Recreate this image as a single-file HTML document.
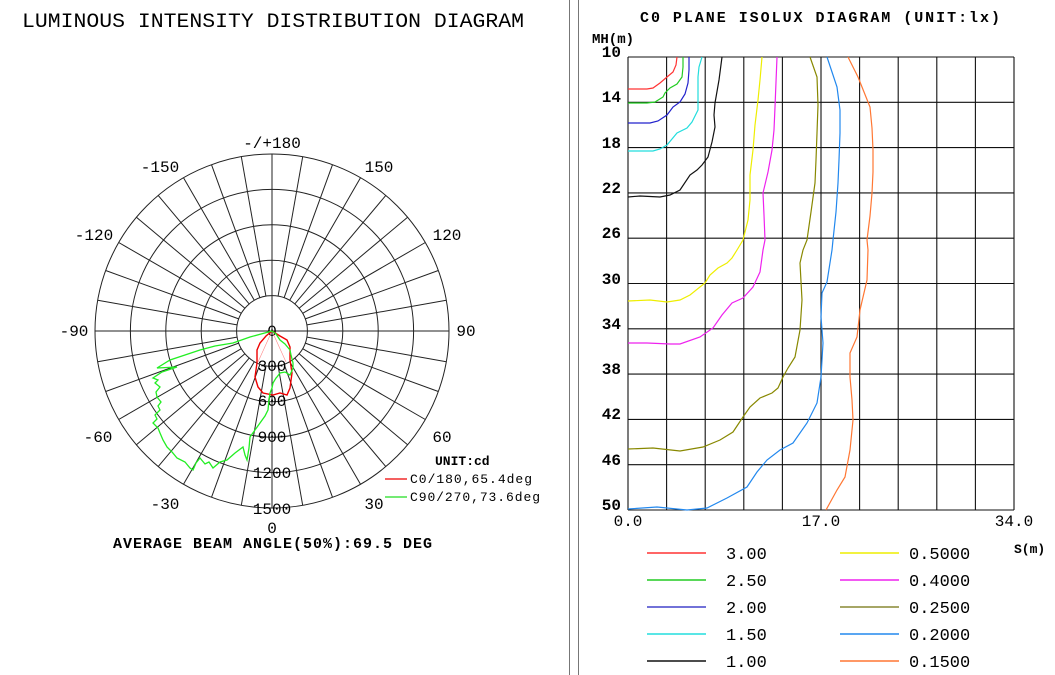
<!DOCTYPE html>
<html><head><meta charset="utf-8"><style>
html,body{margin:0;padding:0;background:#fff}
svg{display:block}
text{font-family:"Liberation Mono","DejaVu Sans Mono",monospace;fill:#000}
.b{font-weight:bold}
</style></head><body>
<svg id="s" width="1055" height="675" viewBox="0 0 1055 675" xmlns="http://www.w3.org/2000/svg">
<rect width="1055" height="675" fill="#fff"/>
<line x1="569.5" y1="0" x2="569.5" y2="675" stroke="#777" stroke-width="1"/>
<line x1="578.5" y1="0" x2="578.5" y2="675" stroke="#777" stroke-width="1"/>
<text x="22" y="27" font-size="20" textLength="502" lengthAdjust="spacingAndGlyphs">LUMINOUS INTENSITY DISTRIBUTION DIAGRAM</text>
<g id="polar" stroke="#222" stroke-width="1" fill="none"></g>
<g font-size="16" text-anchor="middle">
<text x="272" y="148">-/+180</text>
<text x="160" y="172">-150</text><text x="379" y="172">150</text>
<text x="94" y="240">-120</text><text x="447" y="240">120</text>
<text x="74" y="336">-90</text><text x="466" y="336">90</text>
<text x="98" y="442">-60</text><text x="442" y="442">60</text>
<text x="165" y="509">-30</text><text x="374" y="509">30</text>
<text x="272" y="533">0</text>
<text x="272" y="336">0</text>
<text x="272" y="371">300</text><text x="272" y="406">600</text><text x="272" y="442">900</text>
<text x="272" y="478">1200</text><text x="272" y="514">1500</text>
</g>
<text x="435" y="465" font-size="13" class="b">UNIT:cd</text>
<line x1="385" y1="479" x2="407" y2="479" stroke="#e00" stroke-width="1.3"/>
<text x="410" y="483" font-size="13" textLength="122">C0/180,65.4deg</text>
<line x1="385" y1="497" x2="407" y2="497" stroke="#2d2" stroke-width="1.3"/>
<text x="410" y="501" font-size="13" textLength="130">C90/270,73.6deg</text>
<text x="113" y="548" font-size="15" class="b" textLength="319">AVERAGE BEAM ANGLE(50%):69.5 DEG</text>
<g stroke="#f88" stroke-width="0.6">
<line x1="272" y1="331" x2="258" y2="362"/><line x1="272" y1="331" x2="286" y2="362"/>
</g>
<polyline fill="none" stroke="#e00" stroke-width="1.4" points="272,331 280,336 287,340 290,347 290,360 292,373 290,388 287,395 280,393 273,395 263,393 258,387 255,377 257,363 257,350 260,343 266,336 272,331"/>
<polyline fill="none" stroke="#2e2" stroke-width="1.3" points="272,331 250,337 233,343 215,346 200,350 185,355 170,360 157,368 177,367 162,372 153,378 158,380 155,383 160,387 156,392 157,397 161,402 158,406 160,410 155,415 157,419 153,423 158,428 160,433 163,440 167,447 172,452 177,458 185,462 190,468 193,470 196,463 200,458 205,464 209,462 213,468 220,462 227,460 235,453 243,447 245,455 247,460 249,448 250,437 255,430 260,423 265,416 268,410 269,400 270,393 272,388 273,383 276,378 277,377 280,373 285,372 290,375 293,368 293,363 291,355 290,350 285,344 280,340 276,334 272,331"/>
<text x="640" y="22" font-size="15" class="b" textLength="360">C0 PLANE ISOLUX DIAGRAM (UNIT:lx)</text>
<text x="592" y="43" font-size="14" class="b">MH(m)</text>
<g id="grid" stroke="#111" stroke-width="1.1" fill="none"></g>
<g font-size="16" class="b" text-anchor="end">
<text x="621" y="57">10</text><text x="621" y="102">14</text><text x="621" y="148">18</text>
<text x="621" y="193">22</text><text x="621" y="238">26</text><text x="621" y="284">30</text>
<text x="621" y="329">34</text><text x="621" y="374">38</text><text x="621" y="419">42</text>
<text x="621" y="465">46</text><text x="621" y="510">50</text>
</g>
<g font-size="16" text-anchor="middle">
<text x="628" y="526">0.0</text><text x="821" y="526">17.0</text><text x="1014" y="526">34.0</text>
</g>
<text x="1014" y="553" font-size="13" class="b">S(m)</text>
<g fill="none" stroke-width="1.2">
<polyline stroke="#f33" points="677,57 676,65 673,72 667,77 660,83 653,88 647,89 628,89"/>
<polyline stroke="#2c2" points="683,57 683,67 682,77 677,84 670,88 665,93 663,97 655,102 647,103 628,103"/>
<polyline stroke="#22c" points="689,57 689,70 688,83 685,94 680,102 673,107 667,115 658,121 650,123 628,123"/>
<polyline stroke="#2dd" points="702,57 699,67 698,77 698,95 698,110 692,122 687,128 677,133 667,145 660,149 653,151 628,151"/>
<polyline stroke="#111" points="722,57 719,80 715,103 714,115 715,127 712,142 708,157 702,165 697,170 690,175 680,190 670,195 660,197 640,196 628,197"/>
<polyline stroke="#ee0" points="762,57 760,80 758,100 755,125 753,150 750,175 750,200 748,220 743,240 737,250 732,258 727,263 718,268 710,275 705,283 690,295 680,300 667,302 650,300 628,301"/>
<polyline stroke="#e2e" points="777,57 776,82 775,107 774,130 772,150 768,172 763,193 764,215 765,240 763,250 760,272 753,287 743,298 732,303 722,315 713,328 700,337 680,344 670,344 647,343 628,343"/>
<polyline stroke="#880" points="810,57 817,77 818,105 817,133 816,160 815,183 811,212 807,240 803,250 800,263 802,300 800,330 795,357 788,368 783,377 778,388 772,393 760,398 750,407 743,417 733,432 720,440 703,447 680,451 653,448 628,449"/>
<polyline stroke="#28e" points="827,57 832,72 837,87 840,110 840,133 839,160 838,183 836,212 833,240 832,250 827,282 822,293 821,317 823,343 822,360 821,377 817,403 807,423 793,443 780,450 767,460 757,472 747,487 727,498 707,508 687,510 657,507 628,509"/>
<polyline stroke="#f73" points="848,57 853,67 858,77 864,92 870,107 872,128 873,150 873,172 872,193 870,216 867,240 868,250 867,280 860,310 857,337 850,353 850,377 852,400 853,420 850,450 845,477 837,490 826,510"/>
</g>
<g stroke-width="1.4">
<line x1="647" y1="553" x2="706" y2="553" stroke="#f33"/>
<line x1="647" y1="580" x2="706" y2="580" stroke="#2c2"/>
<line x1="647" y1="607" x2="706" y2="607" stroke="#44c"/>
<line x1="647" y1="634" x2="706" y2="634" stroke="#2dd"/>
<line x1="647" y1="661" x2="706" y2="661" stroke="#111"/>
<line x1="840" y1="553" x2="899" y2="553" stroke="#ee0"/>
<line x1="840" y1="580" x2="899" y2="580" stroke="#e2e"/>
<line x1="840" y1="607" x2="899" y2="607" stroke="#883"/>
<line x1="840" y1="634" x2="899" y2="634" stroke="#28e"/>
<line x1="840" y1="661" x2="899" y2="661" stroke="#f73"/>
</g>
<g font-size="17">
<text x="726" y="559">3.00</text><text x="726" y="586">2.50</text><text x="726" y="613">2.00</text>
<text x="726" y="640">1.50</text><text x="726" y="667">1.00</text>
<text x="909" y="559">0.5000</text><text x="909" y="586">0.4000</text><text x="909" y="613">0.2500</text>
<text x="909" y="640">0.2000</text><text x="909" y="667">0.1500</text>
</g>
</svg>
<script>
(function(){
var NS="http://www.w3.org/2000/svg";
function el(p,t,a){var e=document.createElementNS(NS,t);for(var k in a)e.setAttribute(k,a[k]);p.appendChild(e);}
var g=document.getElementById("polar"),cx=272,cy=331,R=177,r0=35.4;
for(var i=1;i<=5;i++)el(g,"circle",{cx:cx,cy:cy,r:(r0*i).toFixed(1)});
for(var a=0;a<360;a+=10){var t=a*Math.PI/180,s=Math.sin(t),c=Math.cos(t);
 var ri=(a%90==0)?0:r0;
 el(g,"line",{x1:(cx+ri*s).toFixed(1),y1:(cy+ri*c).toFixed(1),x2:(cx+R*s).toFixed(1),y2:(cy+R*c).toFixed(1)});}
var gr=document.getElementById("grid"),x0=628,x1=1014,y0=57,y1=510;
for(var i=0;i<=10;i++){var x=x0+(x1-x0)*i/10;el(gr,"line",{x1:x.toFixed(1),y1:y0,x2:x.toFixed(1),y2:y1});
 var y=y0+(y1-y0)*i/10;el(gr,"line",{x1:x0,y1:y.toFixed(1),x2:x1,y2:y.toFixed(1)});}
})();
</script>
</body></html>
